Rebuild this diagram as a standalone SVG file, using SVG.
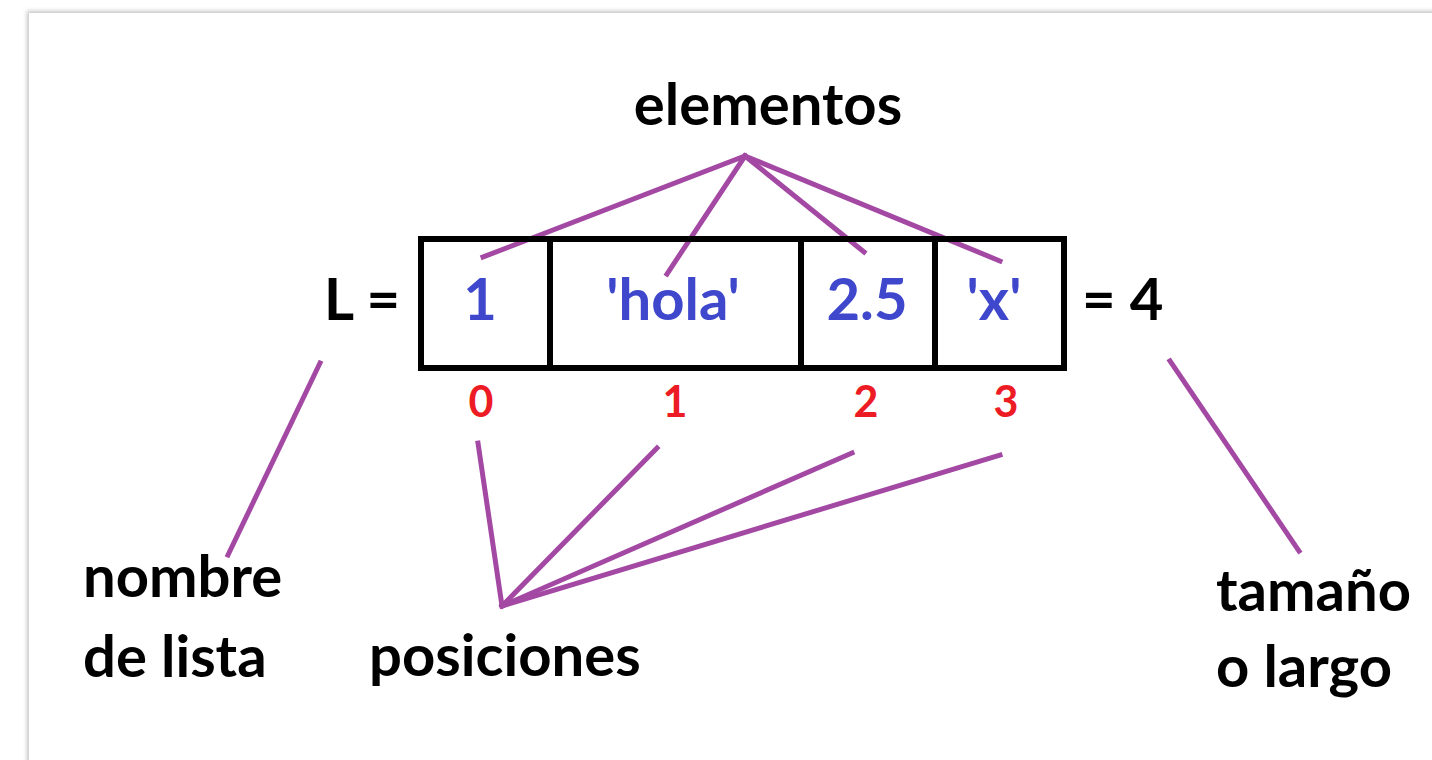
<svg xmlns="http://www.w3.org/2000/svg" width="1432" height="760" viewBox="0 0 1432 760">
<defs>
<filter id="sh" x="-5%" y="-5%" width="110%" height="110%"><feGaussianBlur stdDeviation="2"/></filter>
<style>
.t{font-family:Lato,"Open Sans","Liberation Sans",sans-serif;font-weight:bold;font-size:58px;fill:#000}
.v{fill:#3F48CC}
.i{font-size:43px;fill:#ED1C24}
.m{text-anchor:middle}
.box{fill:none;stroke:#000;stroke-width:6}
.c{stroke:#A349A4;stroke-width:5;stroke-linecap:square;fill:none}
</style>
</defs>
<rect width="1432" height="760" fill="#fff"/>
<rect x="27" y="11" width="1420" height="770" fill="#c4c4c4" filter="url(#sh)"/>
<rect x="29" y="13" width="1420" height="770" fill="#fff"/>
<g id="connectors">
<line class="c" x1="745" y1="156" x2="483" y2="257"/>
<line class="c" x1="745" y1="156" x2="667" y2="274"/>
<line class="c" x1="745" y1="156" x2="864" y2="252"/>
<line class="c" x1="745" y1="156" x2="1000" y2="261"/>
<line class="c" x1="320" y1="363" x2="228" y2="555"/>
<line class="c" x1="1170" y1="361" x2="1299" y2="551"/>
<line class="c" x1="502" y1="606" x2="478" y2="443"/>
<line class="c" x1="502" y1="606" x2="657" y2="448"/>
<line class="c" x1="502" y1="606" x2="852" y2="453"/>
<line class="c" x1="502" y1="606" x2="1000" y2="455"/>
</g>
<g id="list">
<rect class="box" x="421" y="239" width="643" height="129"/>
<line class="box" x1="550" y1="239" x2="550" y2="368"/>
<line class="box" x1="801" y1="239" x2="801" y2="368"/>
<line class="box" x1="935" y1="239" x2="935" y2="368"/>
</g>
<g id="elementos"><text class="t m" x="768" y="125">elementos</text></g>
<g id="name"><text class="t" x="324" y="320">L =</text></g>
<g id="e0"><text class="t v m" x="480" y="320">1</text></g>
<g id="e1"><text class="t v m" x="673" y="320">'hola'</text></g>
<g id="e2"><text class="t v m" x="867" y="320">2.5</text></g>
<g id="e3"><text class="t v m" x="994" y="320">'x'</text></g>
<g id="len"><text class="t" x="1082" y="320">= 4</text></g>
<g id="idx">
<text class="t i m" x="481" y="417">0</text>
<text class="t i m" x="675" y="417">1</text>
<text class="t i m" x="866" y="417">2</text>
<text class="t i m" x="1006" y="417">3</text>
</g>
<g id="nombre"><text class="t" x="83" y="597">nombre</text><text class="t" x="83" y="677">de lista</text></g>
<g id="posiciones"><text class="t" x="369" y="676">posiciones</text></g>
<g id="tamano"><text class="t" x="1216" y="611">tamaño</text><text class="t" x="1216" y="687">o largo</text></g>
</svg>
